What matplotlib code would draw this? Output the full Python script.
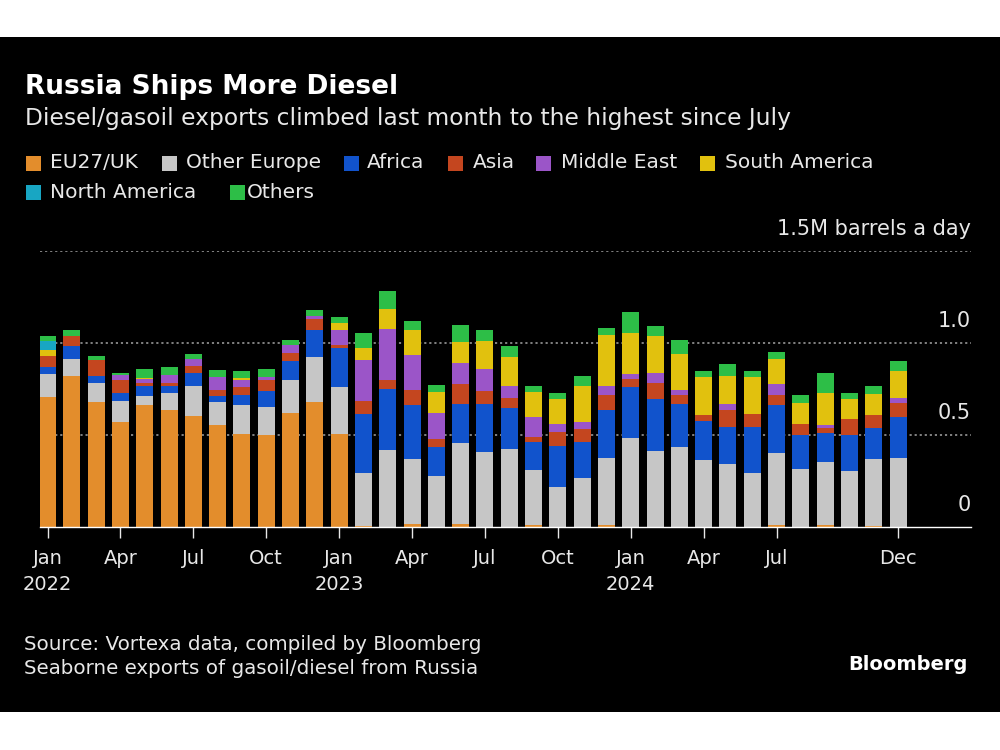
import numpy as np
import matplotlib
matplotlib.use("Agg")
import matplotlib.pyplot as plt
from matplotlib.patches import Rectangle

# monthly seaborne diesel/gasoil exports, million barrels a day (Jan 2022 - Dec 2024)
eu_uk = [0.708, 0.823, 0.677, 0.572, 0.661, 0.634, 0.601, 0.552, 0.504, 0.498, 0.621, 0.681,
         0.504, 0.005, 0.0, 0.015, 0.0, 0.015, 0.0, 0.0, 0.010, 0.0, 0.0, 0.010,
         0.0, 0.0, 0.0, 0.0, 0.0, 0.0, 0.010, 0.0, 0.010, 0.0, 0.005, 0.0]
other_europe = [0.121, 0.090, 0.103, 0.112, 0.050, 0.095, 0.164, 0.128, 0.158, 0.155, 0.177, 0.243,
                0.256, 0.286, 0.417, 0.353, 0.278, 0.443, 0.410, 0.426, 0.299, 0.220, 0.264, 0.367,
                0.486, 0.413, 0.435, 0.365, 0.345, 0.296, 0.391, 0.314, 0.344, 0.305, 0.367, 0.374]
africa = [0.041, 0.069, 0.039, 0.045, 0.054, 0.040, 0.073, 0.031, 0.058, 0.085, 0.103, 0.145,
          0.213, 0.321, 0.334, 0.293, 0.159, 0.208, 0.256, 0.220, 0.155, 0.220, 0.198, 0.258,
          0.276, 0.280, 0.231, 0.211, 0.200, 0.247, 0.263, 0.184, 0.155, 0.193, 0.164, 0.225]
asia = [0.061, 0.054, 0.087, 0.072, 0.015, 0.014, 0.036, 0.031, 0.042, 0.063, 0.045, 0.061,
        0.018, 0.072, 0.050, 0.081, 0.040, 0.112, 0.072, 0.056, 0.027, 0.078, 0.072, 0.080,
        0.043, 0.090, 0.054, 0.030, 0.089, 0.069, 0.056, 0.060, 0.031, 0.087, 0.070, 0.076]
middle_east = [0.0, 0.0, 0.0, 0.024, 0.027, 0.042, 0.041, 0.072, 0.039, 0.015, 0.041, 0.018,
               0.078, 0.226, 0.277, 0.193, 0.140, 0.114, 0.121, 0.063, 0.108, 0.043, 0.036, 0.050,
               0.029, 0.055, 0.024, 0.0, 0.036, 0.0, 0.058, 0.0, 0.014, 0.0, 0.005, 0.024]
south_america = [0.033, 0.0, 0.0, 0.0, 0.005, 0.0, 0.0, 0.0, 0.008, 0.0, 0.0, 0.0,
                 0.039, 0.063, 0.106, 0.137, 0.116, 0.115, 0.154, 0.157, 0.134, 0.132, 0.199, 0.280,
                 0.220, 0.198, 0.198, 0.208, 0.149, 0.202, 0.137, 0.117, 0.172, 0.112, 0.113, 0.148]
north_america = [0.049, 0.0, 0.0, 0.0, 0.0, 0.0, 0.0, 0.0, 0.0, 0.0, 0.0, 0.0,
                 0.0, 0.0, 0.0, 0.0, 0.0, 0.0, 0.0, 0.0, 0.0, 0.0, 0.0, 0.0,
                 0.0, 0.0, 0.0, 0.0, 0.0, 0.0, 0.0, 0.0, 0.0, 0.0, 0.0, 0.0]
others = [0.023, 0.033, 0.022, 0.014, 0.045, 0.045, 0.025, 0.038, 0.038, 0.040, 0.027, 0.033,
          0.033, 0.081, 0.096, 0.049, 0.041, 0.092, 0.056, 0.064, 0.032, 0.033, 0.054, 0.034,
          0.116, 0.058, 0.076, 0.036, 0.069, 0.036, 0.036, 0.045, 0.112, 0.032, 0.045, 0.054]

series_names = ["EU27/UK", "Other Europe", "Africa", "Asia", "Middle East",
                "South America", "North America", "Others"]
series_colors = ["#E38D2C", "#C6C6C6", "#1153CC", "#C4461F", "#9B55C8",
                 "#E1C10E", "#18A6C3", "#2DBE47"]

tick_pos = [0, 3, 6, 9, 12, 15, 18, 21, 24, 27, 30, 35]
tick_labels = ["Jan\n2022", "Apr", "Jul", "Oct", "Jan\n2023", "Apr", "Jul", "Oct",
               "Jan\n2024", "Apr", "Jul", "Dec"]

W, H = 1000, 750
plt.rcParams['font.family'] = ['DejaVu Sans']

fig = plt.figure(figsize=(10, 7.5), dpi=100, facecolor="white")

def fx(px):
    return px / W

def fy(py):
    return 1 - py / H

# black panel, drawn under everything
fig.patches.append(Rectangle((0, fy(712)), 1, (712 - 37) / H, transform=fig.transFigure,
                             facecolor="black", edgecolor="none", zorder=-10))

ax = fig.add_axes([fx(40), fy(527), fx(971) - fx(40), (527 - 251) / H])
ax.set_facecolor("none")

data = [eu_uk, other_europe, africa, asia, middle_east, south_america, north_america, others]
x = np.arange(len(eu_uk))
bottom = np.zeros(len(eu_uk))
for vals, col in zip(data, series_colors):
    vals = np.array(vals)
    ax.bar(x, vals, width=0.7, bottom=bottom, color=col, linewidth=0, zorder=3)
    bottom += vals

ax.set_xlim(-0.31, 38.0)
ax.set_ylim(0, 1.5)

for v in [0.5, 1.0, 1.5]:
    ax.axhline(v, color="#8C8C8C", lw=1.3, linestyle=(0, (1.2, 1.6)), zorder=1)

ylabels = {0.0: "0", 0.5: "0.5", 1.0: "1.0", 1.5: "1.5M barrels a day"}
for v, s in ylabels.items():
    ax.text(1.0, v + 0.118, s, transform=ax.get_yaxis_transform(), ha="right", va="center",
            color="#E8E8E8", fontsize=15, clip_on=False)

ax.set_yticks([])
ax.set_xticks(tick_pos)
ax.set_xticklabels(tick_labels, color="#E8E8E8", fontsize=14, linespacing=1.45)
ax.tick_params(axis="x", colors="#E8E8E8", length=8, width=1, pad=8, labelcolor="#E8E8E8")
for s in ["left", "right", "top"]:
    ax.spines[s].set_visible(False)
ax.spines["bottom"].set_color("white")
ax.spines["bottom"].set_linewidth(1)
ax.spines["bottom"].set_zorder(4)

# titles
fig.text(fx(25), fy(87), "Russia Ships More Diesel", color="white", fontsize=19,
         fontweight="bold", va="center", ha="left")
fig.text(fx(25), fy(119), "Diesel/gasoil exports climbed last month to the highest since July",
         color="#E8E8E8", fontsize=16.8, va="center", ha="left")

# legend: square left x, row centre y, text left x
leg_items = [(26, 163, 50), (162, 163, 186), (344, 163, 367), (448, 163, 473),
             (536, 163, 561), (700, 163, 725), (26, 192, 50), (230, 192, 247)]
for (sx, sy, tx), name, col in zip(leg_items, series_names, series_colors):
    fig.patches.append(Rectangle((fx(sx), fy(sy + 7.5)), 15 / W, 15 / H, transform=fig.transFigure,
                                 facecolor=col, edgecolor="none"))
    fig.text(fx(tx), fy(sy), name, color="#E8E8E8", fontsize=14.5, va="center", ha="left")

# footer
fig.text(fx(24), fy(645), "Source: Vortexa data, compiled by Bloomberg", color="#E8E8E8",
         fontsize=14.3, va="center", ha="left")
fig.text(fx(24), fy(669), "Seaborne exports of gasoil/diesel from Russia", color="#E8E8E8",
         fontsize=14.3, va="center", ha="left")
fig.text(fx(968), fy(664), "Bloomberg", color="white", fontsize=14, fontweight="bold",
         va="center", ha="right")

fig.savefig("out.png", dpi=100, facecolor="white")
